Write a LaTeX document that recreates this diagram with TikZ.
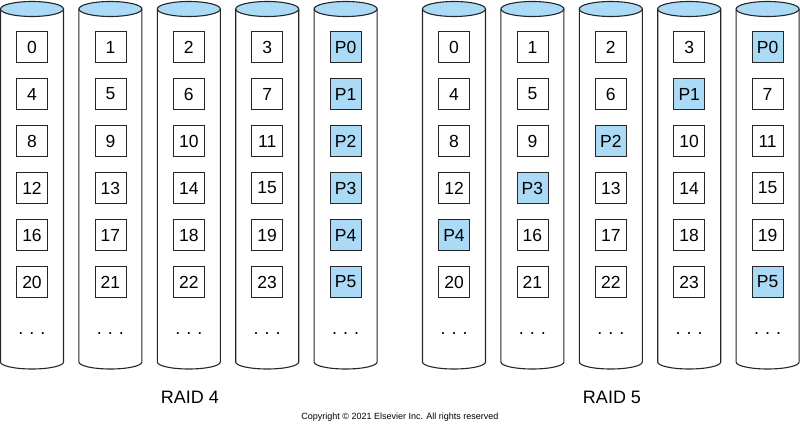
\documentclass[tikz,border=0pt]{standalone}
\usepackage{fontspec}
\setmainfont{Liberation Sans}
\definecolor{raidblue}{RGB}{170,218,245}
\begin{document}
\begin{tikzpicture}[x=1pt,y=1pt,
  disk/.style={draw=black!85, line width=1.1pt},
  blk/.style={draw=black!85, line width=0.8pt, minimum width=31pt, minimum height=31pt, inner sep=0pt, font=\fontsize{17.5}{18}\selectfont},
  par/.style={blk, fill=raidblue},
  dotsty/.style={font=\fontsize{18}{18}\selectfont, inner sep=0pt},
  lab/.style={font=\fontsize{18}{18}\selectfont, inner sep=0pt}]
\useasboundingbox (0,0) rectangle (800,426);
% disks
\foreach \cx [count=\i] in {32,110.4,188.8,267.2,345.6,454,532.4,610.8,689.2,767.6} {
  \draw[disk] (\cx-31.5,417) -- (\cx-31.5,64) arc[start angle=180,end angle=360,x radius=31.5,y radius=7] -- (\cx+31.5,417);
  \draw[disk,fill=raidblue] (\cx,417) ellipse[x radius=31.5, y radius=7.5];
  \node[dotsty] (dots\i) at (\cx,92) {.\,\,.\,\,.};
}
% RAID 4
\foreach \k/\cx in {0/32,1/110.4,2/188.8,3/267.2} {
  \foreach \r/\y in {0/379,1/332,2/285,3/238,4/191,5/144} {
    \pgfmathtruncatemacro\n{4*\r+\k}
    \node[blk] (a\k\r) at (\cx,\y) {\n};
  }
}
\foreach \r/\y in {0/379,1/332,2/285,3/238,4/191,5/144} {
  \node[par] (a4\r) at (345.6,\y) {P\r};
}
% RAID 5
\node[blk] (b00) at (454,379) {0};
\node[blk] (b10) at (532.4,379) {1};
\node[blk] (b20) at (610.8,379) {2};
\node[blk] (b30) at (689.2,379) {3};
\node[par] (b40) at (767.6,379) {P0};
\node[blk] (b01) at (454,332) {4};
\node[blk] (b11) at (532.4,332) {5};
\node[blk] (b21) at (610.8,332) {6};
\node[par] (b31) at (689.2,332) {P1};
\node[blk] (b41) at (767.6,332) {7};
\node[blk] (b02) at (454,285) {8};
\node[blk] (b12) at (532.4,285) {9};
\node[par] (b22) at (610.8,285) {P2};
\node[blk] (b32) at (689.2,285) {10};
\node[blk] (b42) at (767.6,285) {11};
\node[blk] (b03) at (454,238) {12};
\node[par] (b13) at (532.4,238) {P3};
\node[blk] (b23) at (610.8,238) {13};
\node[blk] (b33) at (689.2,238) {14};
\node[blk] (b43) at (767.6,238) {15};
\node[par] (b04) at (454,191) {P4};
\node[blk] (b14) at (532.4,191) {16};
\node[blk] (b24) at (610.8,191) {17};
\node[blk] (b34) at (689.2,191) {18};
\node[blk] (b44) at (767.6,191) {19};
\node[blk] (b05) at (454,144) {20};
\node[blk] (b15) at (532.4,144) {21};
\node[blk] (b25) at (610.8,144) {22};
\node[blk] (b35) at (689.2,144) {23};
\node[par] (b45) at (767.6,144) {P5};
% labels
\node[lab] (raid4) at (190,29) {RAID 4};
\node[lab] (raid5) at (612,29) {RAID 5};
\node[font=\fontsize{9}{9}\selectfont, inner sep=0pt] (copy) at (400,9) {Copyright © 2021 Elsevier Inc. All rights reserved};
\end{tikzpicture}
\end{document}
